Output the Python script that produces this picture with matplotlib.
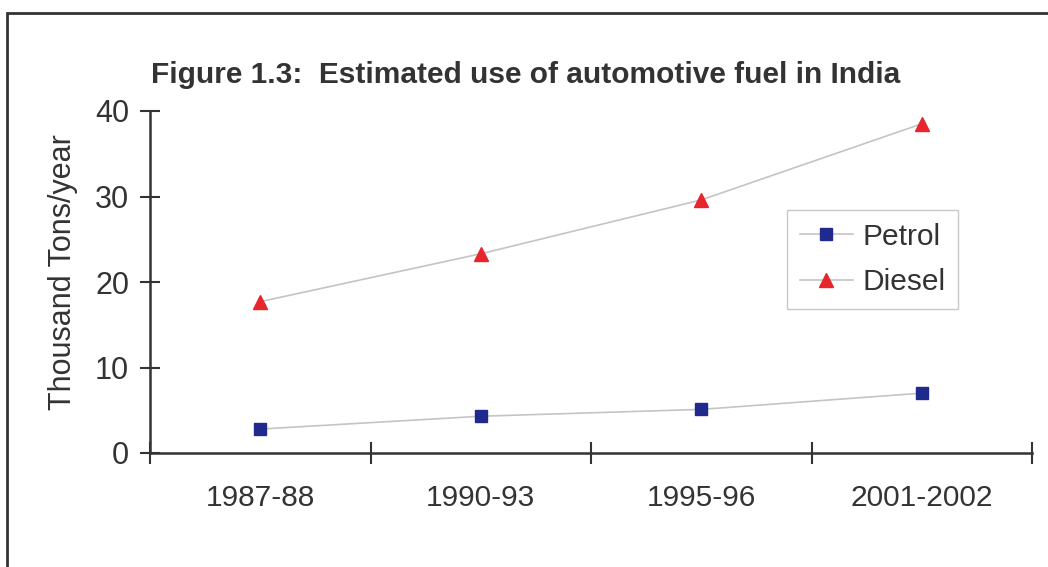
import matplotlib.pyplot as plt
from matplotlib.patches import Rectangle

plt.rcParams['font.family'] = ['Liberation Sans', 'DejaVu Sans']

periods = ["1987-88", "1990-93", "1995-96", "2001-2002"]
petrol = [2.8, 4.3, 5.1, 7.0]
diesel = [17.7, 23.3, 29.6, 38.5]

fig = plt.figure(figsize=(10.48, 5.67), dpi=100)

# outer frame of the scanned figure
fig.patches.append(Rectangle((7 / 1048, -0.1), 1.2, 0.1 + (567 - 13) / 567,
                             transform=fig.transFigure, fill=False,
                             edgecolor="#333333", linewidth=2))

ax = fig.add_axes([150 / 1048, 1 - 453 / 567, (1032 - 150) / 1048, (453 - 111) / 567])

xs = [i + 0.5 for i in range(len(periods))]
ax.plot(xs, petrol, color="#c4c4c4", linewidth=1.2, marker="s", markersize=8.5,
        markerfacecolor="#1f2a8c", markeredgecolor="#1f2a8c", label="Petrol")
ax.plot(xs, diesel, color="#c4c4c4", linewidth=1.2, marker="^", markersize=10,
        markerfacecolor="#e8242c", markeredgecolor="#e8242c", label="Diesel")

ax.set_xlim(0, 4)
ax.set_ylim(0, 40)
ax.set_yticks([0, 10, 20, 30, 40])
ax.set_xticks(range(5))
ax.set_xticklabels([])
ax.set_xticks(xs, minor=True)
ax.set_xticklabels(periods, minor=True)
ax.tick_params(axis="x", which="minor", length=0, pad=22, labelsize=21.5, labelcolor="#333333")
ax.tick_params(axis="x", which="major", direction="inout", length=16, width=1.5, color="#333333")
ax.tick_params(axis="y", direction="inout", length=14, width=1.5, color="#333333",
               labelsize=22, labelcolor="#333333", pad=8)

for side in ["top", "right"]:
    ax.spines[side].set_visible(False)
for side in ["left", "bottom"]:
    ax.spines[side].set_color("#333333")
    ax.spines[side].set_linewidth(1.8)

fig.text(63 / 1048, 1 - 272 / 567, "Thousand Tons/year", rotation=90,
         ha="center", va="center", fontsize=22, color="#333333")

fig.text(526 / 1048, 1 - 75 / 567, "Figure 1.3:  Estimated use of automotive fuel in India",
         ha="center", va="center", fontsize=21.5, fontweight="bold", color="#333333")

leg = ax.legend(loc="upper left", bbox_to_anchor=((787 - 150) / 882, (453 - 210) / 342),
                fontsize=21.5, frameon=True, fancybox=False, borderpad=0.42,
                handlelength=1.8, handletextpad=0.3, labelspacing=0.6,
                borderaxespad=0, labelcolor="#333333")
leg.get_frame().set_edgecolor("#bbbbbb")
leg.get_frame().set_linewidth(1)

fig.savefig("out.png", dpi=100)
